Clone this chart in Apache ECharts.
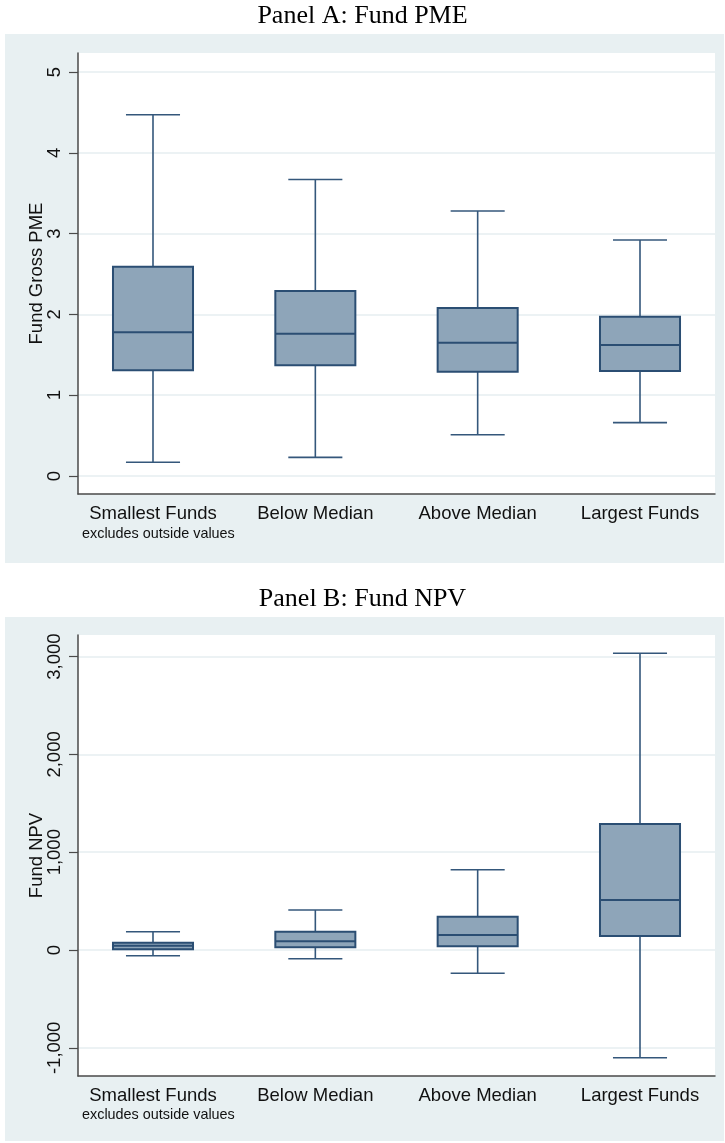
<!DOCTYPE html>
<html>
<head>
<meta charset="utf-8">
<script src="https://cdn.jsdelivr.net/npm/echarts@6/dist/echarts.min.js"></script>
<style>
html,body{margin:0;padding:0;background:#fff;}
#chart{width:725px;height:1143px;}
</style>
</head>
<body>
<div id="chart"></div>
<script>
// ---- data ----
const categories = ['Smallest Funds', 'Below Median', 'Above Median', 'Largest Funds'];
const catPos = [1, 2, 3, 4];

// Panel A: Fund Gross PME (lower whisker, Q1, median, Q3, upper whisker)
const pmeMin = [0.17, 0.23, 0.51, 0.66];
const pmeQ1  = [1.31, 1.37, 1.29, 1.30];
const pmeMed = [1.78, 1.76, 1.65, 1.62];
const pmeQ3  = [2.59, 2.29, 2.08, 1.97];
const pmeMax = [4.47, 3.67, 3.28, 2.92];

// Panel B: Fund NPV
const npvMin = [-58, -89, -238, -1101];
const npvQ1  = [7, 28, 38, 143];
const npvMed = [44, 89, 153, 511];
const npvQ3  = [75, 187, 341, 1288];
const npvMax = [187, 409, 821, 3034];

const pmeTicks = [0, 1, 2, 3, 4, 5];
const npvTicks = [-1000, 0, 1000, 2000, 3000];

// ---- helpers ----
function rows(mn, q1, md, q3, mx) {
  return catPos.map((p, i) => [p, mn[i], q1[i], md[i], q3[i], mx[i]]);
}
const BOX_FILL = '#8ea5b9', BOX_LINE = '#2b4e73', WHISK = '#34577b';
function renderBox(params, api) {
  const x = api.value(0);
  const lo = api.coord([x, api.value(1)]);
  const q1 = api.coord([x, api.value(2)]);
  const md = api.coord([x, api.value(3)]);
  const q3 = api.coord([x, api.value(4)]);
  const hi = api.coord([x, api.value(5)]);
  const band = api.size([1, 0])[0];
  const bw = band * 0.493, cw = band * 0.333;
  const cx = lo[0];
  const ls = {stroke: WHISK, lineWidth: 1.6};
  return {
    type: 'group',
    children: [
      {type: 'line', shape: {x1: cx, y1: hi[1], x2: cx, y2: q3[1]}, style: ls},
      {type: 'line', shape: {x1: cx, y1: q1[1], x2: cx, y2: lo[1]}, style: ls},
      {type: 'line', shape: {x1: cx - cw / 2, y1: hi[1], x2: cx + cw / 2, y2: hi[1]}, style: ls},
      {type: 'line', shape: {x1: cx - cw / 2, y1: lo[1], x2: cx + cw / 2, y2: lo[1]}, style: ls},
      {type: 'rect', shape: {x: cx - bw / 2, y: q3[1], width: bw, height: q1[1] - q3[1]},
        style: {fill: BOX_FILL, stroke: BOX_LINE, lineWidth: 2}},
      {type: 'line', shape: {x1: cx - bw / 2, y1: md[1], x2: cx + bw / 2, y2: md[1]},
        style: {stroke: BOX_LINE, lineWidth: 2}}
    ]
  };
}
const fmtThousands = v => {
  const s = Math.abs(v).toString().replace(/\B(?=(\d{3})+(?!\d))/g, ',');
  return (v < 0 ? '-' : '') + s;
};

const SANS = 'Liberation Sans, Arial, sans-serif';
const SERIF = 'Liberation Serif, Times New Roman, serif';
const BG = '#e8f0f2';
const GRIDLINE = '#e6eef1';
const AXIS = '#4a4a4a';
const FS = 18.5;

function xAxisDef(gridIndex) {
  return {
    type: 'value', gridIndex, min: 0.538, max: 4.462,
    axisLine: {show: true, onZero: false, lineStyle: {color: AXIS, width: 1.5}},
    axisTick: {show: false},
    splitLine: {show: false},
    axisLabel: {
      customValues: catPos,
      formatter: v => categories[Math.round(v) - 1] || '',
      color: '#111', fontFamily: SANS, fontSize: FS, margin: 10
    }
  };
}
function yAxisDef(gridIndex, name, min, max, ticks, fmt) {
  return {
    type: 'value', gridIndex, min, max,
    name, nameLocation: 'middle', nameGap: 32, nameMoveOverlap: false,
    nameTextStyle: {color: '#111', fontFamily: SANS, fontSize: FS},
    axisLine: {show: true, onZero: false, lineStyle: {color: AXIS, width: 1.5}},
    axisTick: {show: true, customValues: ticks, length: 9, lineStyle: {color: AXIS, width: 1.2}},
    splitLine: {show: true, lineStyle: {color: GRIDLINE, width: 1.5}},
    axisLabel: {
      customValues: ticks, rotate: 90, formatter: fmt,
      color: '#111', fontFamily: SANS, fontSize: FS, margin: 14
    }
  };
}

const chart = echarts.init(document.getElementById('chart'), null, {renderer: 'canvas'});
chart.setOption({
  animation: false,
  backgroundColor: '#ffffff',
  graphic: [
    {type: 'rect', z: -10, shape: {x: 5, y: 34, width: 719, height: 529}, style: {fill: BG}},
    {type: 'rect', z: -10, shape: {x: 5, y: 617, width: 719, height: 524}, style: {fill: BG}}
  ],
  title: [
    {text: 'Panel A: Fund PME', left: 'center', top: -2,
      textStyle: {fontFamily: SERIF, fontSize: 26, fontWeight: 'normal', color: '#000'}},
    {text: 'Panel B: Fund NPV', left: 'center', top: 581,
      textStyle: {fontFamily: SERIF, fontSize: 26, fontWeight: 'normal', color: '#000'}},
    {text: 'excludes outside values', left: 77, top: 522,
      textStyle: {fontFamily: SANS, fontSize: 14.4, fontWeight: 'normal', color: '#111'}},
    {text: 'excludes outside values', left: 77, top: 1103,
      textStyle: {fontFamily: SANS, fontSize: 14.4, fontWeight: 'normal', color: '#111'}}
  ],
  grid: [
    {left: 78, top: 53, width: 637, height: 441, show: true, backgroundColor: '#fff', borderWidth: 0},
    {left: 78, top: 635, width: 637, height: 441, show: true, backgroundColor: '#fff', borderWidth: 0}
  ],
  xAxis: [xAxisDef(0), xAxisDef(1)],
  yAxis: [
    yAxisDef(0, 'Fund Gross PME', -0.223, 5.235, pmeTicks, v => String(v)),
    yAxisDef(1, 'Fund NPV', -1288, 3221, npvTicks, fmtThousands)
  ],
  series: [
    {type: 'custom', xAxisIndex: 0, yAxisIndex: 0, renderItem: renderBox,
      encode: {x: 0, y: [1, 2, 3, 4, 5]},
      data: rows(pmeMin, pmeQ1, pmeMed, pmeQ3, pmeMax)},
    {type: 'custom', xAxisIndex: 1, yAxisIndex: 1, renderItem: renderBox,
      encode: {x: 0, y: [1, 2, 3, 4, 5]},
      data: rows(npvMin, npvQ1, npvMed, npvQ3, npvMax)}
  ]
});
</script>
</body>
</html>
